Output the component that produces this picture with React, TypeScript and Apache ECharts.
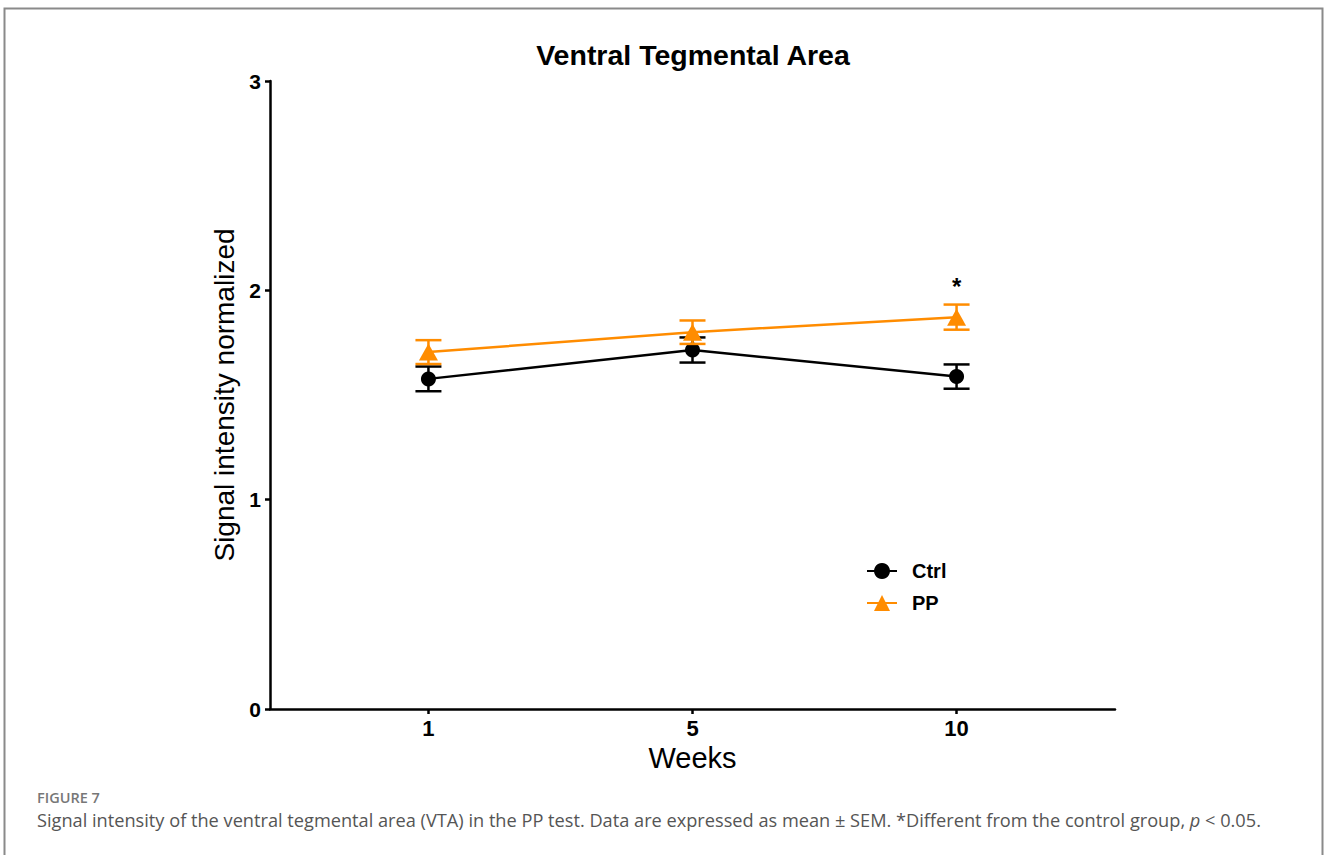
import React, { useEffect, useRef } from "react";
import * as echarts from "echarts";

const weeks = ["1", "5", "10"];
const ctrlMean = [1.577, 1.715, 1.588];
const ctrlSem = [0.059, 0.06, 0.058];
const ppMean = [1.705, 1.8, 1.872];
const ppSem = [0.057, 0.056, 0.06];
const ppSig = ["", "", "*"];
const yTicks = [0, 1, 2, 3];

const BLACK = "#000000";
const ORANGE = "#FF8C00";
const AX_FONT = "'Liberation Sans', Arial, sans-serif";
const CAP_FONT = "'Open Sans', 'Noto Sans', sans-serif";

function errorBars(color: string, sig?: string[]) {
  return (params: any, api: any) => {
    const x = api.value(0);
    const m = api.value(1);
    const s = api.value(2);
    const top = api.coord([x, m + s]);
    const bot = api.coord([x, m - s]);
    const hw = 13;
    const style = { stroke: color, lineWidth: 2.5 };
    const children: any[] = [
      { type: "line", shape: { x1: top[0], y1: top[1], x2: bot[0], y2: bot[1] }, style },
      { type: "line", shape: { x1: top[0] - hw, y1: top[1], x2: top[0] + hw, y2: top[1] }, style },
      { type: "line", shape: { x1: bot[0] - hw, y1: bot[1], x2: bot[0] + hw, y2: bot[1] }, style },
    ];
    const mark = sig ? sig[params.dataIndex] : "";
    if (mark) {
      children.push({
        type: "text",
        x: top[0],
        y: top[1] - 6,
        style: {
          text: mark,
          fill: BLACK,
          font: `bold 24px ${AX_FONT}`,
          align: "center",
          verticalAlign: "bottom",
        },
      });
    }
    return { type: "group", children };
  };
}

export default function App() {
  const ref = useRef<HTMLDivElement>(null);
  useEffect(() => {
    if (!ref.current) return;
    const chart = echarts.init(ref.current, null, { renderer: "svg" });
    const idx = weeks.map((_, i) => i);
    chart.setOption({
      animation: false,
      backgroundColor: "#ffffff",
      title: {
        text: "Ventral Tegmental Area",
        left: 688,
        textAlign: "center",
        top: 35,
        textStyle: { fontFamily: AX_FONT, fontWeight: "bold", fontSize: 28.5, color: BLACK },
      },
      grid: { left: 270, right: 213, top: 81, bottom: 146, containLabel: false },
      legend: {
        orient: "vertical",
        left: 861,
        top: 556,
        itemWidth: 30,
        itemHeight: 20,
        itemGap: 12,
        data: ["Ctrl", "PP"],
        textStyle: { fontFamily: AX_FONT, fontWeight: "bold", fontSize: 20, color: BLACK, padding: [0, 0, 0, 10] },
      },
      xAxis: {
        type: "value",
        min: -0.6,
        max: 2.6,
        name: "Weeks",
        nameLocation: "middle",
        nameGap: 29,
        nameTextStyle: { fontFamily: AX_FONT, fontSize: 29, color: BLACK },
        axisLine: { onZero: false, lineStyle: { color: BLACK, width: 2.5 } },
        axisTick: { show: true, customValues: idx, length: 5, lineStyle: { color: BLACK, width: 2.5 } },
        axisLabel: {
          customValues: idx,
          formatter: (v: number) => weeks[Math.round(v)] ?? "",
          fontFamily: AX_FONT,
          fontWeight: "bold",
          fontSize: 22,
          color: BLACK,
          margin: 8,
        },
        splitLine: { show: false },
      },
      yAxis: {
        type: "value",
        min: yTicks[0],
        max: yTicks[yTicks.length - 1],
        interval: 1,
        name: "Signal intensity normalized",
        nameLocation: "middle",
        nameGap: 29,
        nameTextStyle: { fontFamily: AX_FONT, fontSize: 28, color: BLACK },
        axisLine: { show: true, onZero: false, lineStyle: { color: BLACK, width: 2.5 } },
        axisTick: { show: true, length: 5, lineStyle: { color: BLACK, width: 2.5 } },
        axisLabel: {
          fontFamily: AX_FONT,
          fontWeight: "bold",
          fontSize: 21,
          color: BLACK,
          margin: 9,
        },
        splitLine: { show: false },
      },
      graphic: [
        {
          type: "rect",
          shape: { x: 4.5, y: 8.5, width: 1318, height: 900 },
          style: { fill: "none", stroke: "#8a8a8a", lineWidth: 2 },
          silent: true,
        },
        {
          type: "text",
          x: 37,
          y: 797,
          style: {
            text: "FIGURE 7",
            fill: "#777777",
            font: `600 14.5px ${CAP_FONT}`,
            verticalAlign: "middle",
          },
        },
        {
          type: "text",
          x: 37,
          y: 820,
          style: {
            text: "Signal intensity of the ventral tegmental area (VTA) in the PP test. Data are expressed as mean ± SEM. *Different from the control group, {i|p} < 0.05.",
            fill: "#555555",
            font: `18.2px ${CAP_FONT}`,
            verticalAlign: "middle",
            rich: { i: { fontStyle: "italic", fontFamily: CAP_FONT, fontSize: 18.2, fill: "#555555" } },
          },
        },
      ],
      series: [
        {
          name: "Ctrl",
          type: "line",
          data: idx.map((i) => [i, ctrlMean[i]]),
          symbol: "circle",
          symbolSize: 15,
          itemStyle: { color: BLACK },
          lineStyle: { color: BLACK, width: 2.5 },
          z: 3,
        },
        {
          name: "Ctrl",
          type: "custom",
          renderItem: errorBars(BLACK),
          data: idx.map((i) => [i, ctrlMean[i], ctrlSem[i]]),
          encode: { x: 0, y: 1 },
          z: 3,
        },
        {
          name: "PP",
          type: "line",
          data: idx.map((i) => [i, ppMean[i]]),
          symbol: "triangle",
          symbolSize: [19, 17],
          itemStyle: { color: ORANGE },
          lineStyle: { color: ORANGE, width: 2.5 },
          z: 4,
        },
        {
          name: "PP",
          type: "custom",
          renderItem: errorBars(ORANGE, ppSig),
          data: idx.map((i) => [i, ppMean[i], ppSem[i]]),
          encode: { x: 0, y: 1 },
          z: 4,
        },
      ],
    });
    return () => chart.dispose();
  }, []);
  return (
    <div
      ref={ref}
      style={{ position: "absolute", left: 0, top: 0, width: 1328, height: 855 }}
    />
  );
}
